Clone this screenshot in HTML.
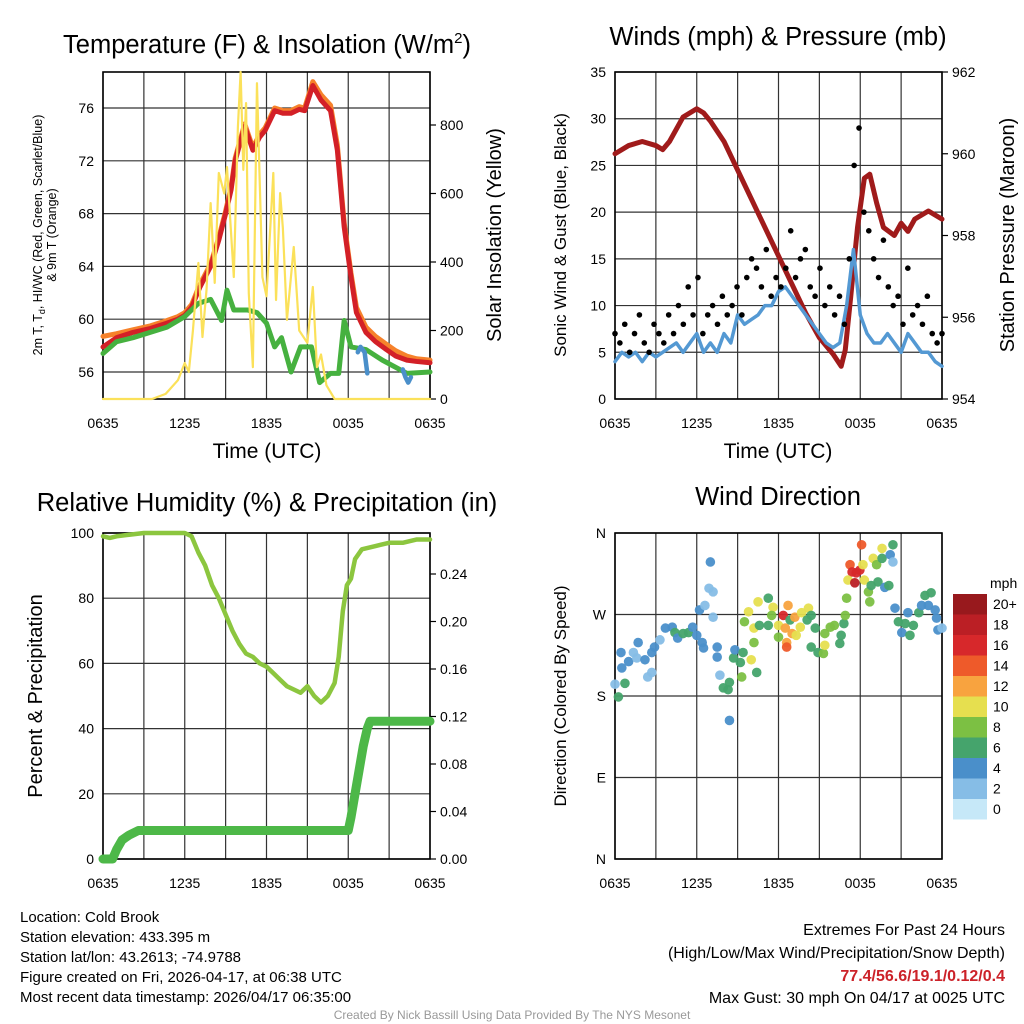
<!DOCTYPE html>
<html><head><meta charset="utf-8">
<style>
html,body{margin:0;padding:0;background:#fff;}
svg{display:block;font-family:"Liberation Sans",sans-serif;}
</style></head>
<body>
<svg id="chart" width="1024" height="1024" viewBox="0 0 1024 1024" xmlns="http://www.w3.org/2000/svg">
<g id="p1"></g>
<g id="p2"></g>
<g id="p3"></g>
<g id="p4"></g>
<text x="267" y="53" font-size="25.5" text-anchor="middle">Temperature (F) &amp; Insolation (W/m<tspan font-size="15" dy="-10">2</tspan><tspan dy="10">)</tspan></text>
<text x="778" y="45" font-size="25.5" text-anchor="middle">Winds (mph) &amp; Pressure (mb)</text>
<text x="267" y="511" font-size="25.5" text-anchor="middle">Relative Humidity (%) &amp; Precipitation (in)</text>
<text x="778" y="505" font-size="25.5" text-anchor="middle">Wind Direction</text>
<text x="267" y="458" font-size="21" text-anchor="middle">Time (UTC)</text>
<text x="778" y="458" font-size="21" text-anchor="middle">Time (UTC)</text>
<text transform="translate(42,235) rotate(-90)" font-size="12.5" text-anchor="middle">2m T, T<tspan font-size="9" dy="3">d</tspan><tspan dy="-3">, HI/WC (Red, Green, Scarlet/Blue)</tspan></text>
<text transform="translate(56,235) rotate(-90)" font-size="12.5" text-anchor="middle">&amp; 9m T (Orange)</text>
<text transform="translate(501,235) rotate(-90)" font-size="20" text-anchor="middle">Solar Insolation (Yellow)</text>
<text transform="translate(566,235) rotate(-90)" font-size="17" text-anchor="middle">Sonic Wind &amp; Gust (Blue, Black)</text>
<text transform="translate(1014,235) rotate(-90)" font-size="20" text-anchor="middle">Station Pressure (Maroon)</text>
<text transform="translate(42,696) rotate(-90)" font-size="20" text-anchor="middle">Percent &amp; Precipitation</text>
<text transform="translate(566,696) rotate(-90)" font-size="17" text-anchor="middle">Direction (Colored By Speed)</text>
<g font-size="15">
<text x="20" y="922">Location: Cold Brook</text>
<text x="20" y="942">Station elevation: 433.395 m</text>
<text x="20" y="962">Station lat/lon: 43.2613; -74.9788</text>
<text x="20" y="982">Figure created on Fri, 2026-04-17, at 06:38 UTC</text>
<text x="20" y="1002">Most recent data timestamp: 2026/04/17 06:35:00</text>
</g>
<g font-size="16" text-anchor="end">
<text x="1005" y="935">Extremes For Past 24 Hours</text>
<text x="1005" y="958">(High/Low/Max Wind/Precipitation/Snow Depth)</text>
<text x="1005" y="981" fill="#cc2229" font-weight="bold">77.4/56.6/19.1/0.12/0.4</text>
<text x="1005" y="1003">Max Gust: 30 mph On 04/17 at 0025 UTC</text>
</g>
<text x="512" y="1019" font-size="12" fill="#999" text-anchor="middle">Created By Nick Bassill Using Data Provided By The NYS Mesonet</text>
</svg>
<script>
const xTickLabels = ["0635","1235","1835","0035","0635"];
// Temperature (hours since 0635, value)
const tempHours = [0,1,2.2,3.5,4.7,5.5,6,6.5,7.1,7.9,8.5,9,9.4,9.7,10.1,10.4,11,11.5,11.9,12.6,13.2,13.8,14.4,14.8,15.4,16,16.7,17.2,17.7,18.2,18.6,19.3,20,20.8,21.5,22.3,23,24];
const tempRed = [57.9,58.6,59.0,59.3,59.7,60.0,60.3,60.9,62.4,64.0,66.0,68.0,69.8,72.0,73.5,74.6,72.8,73.8,74.3,75.8,75.6,75.6,75.9,75.8,77.7,76.6,75.8,72.8,67.0,63.2,60.5,59.0,58.3,57.7,57.2,56.9,56.8,56.7];
const tempOrange = [58.7,58.9,59.2,59.5,59.9,60.2,60.5,61.1,62.6,64.2,66.2,68.2,70.0,72.2,73.7,74.8,73.0,74.0,74.5,76.0,75.8,75.8,76.1,76.0,78.0,77.0,76.2,73.2,67.3,63.5,60.9,59.4,58.7,58.1,57.6,57.2,57.0,56.9];
const dewHours = [0,1,2.2,4.7,6,7,7.9,8.7,9.1,9.6,10.6,11.3,12,12.6,13.1,13.8,14.5,15.3,15.9,16.7,17.3,17.7,18.2,19.3,20.5,22.3,24];
const dewValues = [57.4,58.3,58.6,59.4,60.2,61.2,61.5,59.9,62.2,60.7,60.7,60.5,59.7,57.9,58.6,56.0,57.9,57.9,55.2,55.9,55.9,59.9,57.9,57.7,56.9,55.9,56.0];
const wcHours = [18.7,18.9,19.2,19.4,22.0,22.2,22.4,22.6];
const wcValues = [57.5,57.9,57.5,55.9,56.2,55.6,55.2,55.6];
const solarHours = [0,3.6,4.6,5.5,6,6.3,6.6,7,7.3,7.6,7.9,8.2,8.5,8.9,9.1,9.6,9.9,10.1,10.3,10.5,10.7,11,11.3,11.7,12,12.5,12.7,13,13.2,13.5,14,14.4,15,15.4,15.7,16,16.4,17,24];
const solarValues = [0,0,15,55,105,79,200,397,181,320,572,339,660,600,677,356,794,955,669,864,309,93,922,356,300,660,289,601,500,231,444,200,164,327,93,130,40,0,0];
// Wind & pressure
const pressHours = [0,1,2,3,3.5,4,5,6,6.5,7,8,9,10,11,12,13,14,15,16,16.6,16.9,17.3,17.8,18.3,18.7,19.2,19.7,20.5,21,21.5,22,23,24];
const pressValues = [960.0,960.2,960.3,960.2,960.1,960.3,960.9,961.1,961.0,960.8,960.3,959.6,958.9,958.2,957.5,956.8,956.1,955.5,955.1,954.8,955.2,956.5,958.2,959.4,959.5,958.8,958.2,958.0,958.3,958.1,958.4,958.6,958.4];
const windValues = [4,5,4.5,5,4,5,4.5,5,5.5,6,5,6,7,5,6,5,7,6,9,8,8.5,9,10,10,11.5,12,11,10,9,8,7,6,5.5,6,10,16,9,7,6,6,7,6,5,7,6,5,5,4,3.5];
const gustValues = [7,6,8,5,7,9,6,5,8,7,6,9,7,10,8,12,9,13,7,9,10,8,11,9,10,12,9,13,15,14,12,16,11,13,12,14,18,13,15,16,12,11,14,10,12,9,11,8,15,25,29,20,18,15,13,17,12,10,11,8,14,9,10,8,11,7,6,7];
// Humidity & precip
const rhHours = [0,0.5,1,2,3,4,5,6,6.5,7,7.5,8,8.5,9,9.5,10,10.5,11,11.5,12,12.5,13,13.5,14,14.5,15,15.5,16,16.5,17,17.3,17.6,17.9,18.2,18.5,19,20,21,22,23,24];
const rhValues = [99,98.5,99,99.5,100,100,100,100,99,94,90,84,80,75,70,66,63,62,60,59,57,55,53,52,51,53,50,48,50,54,62,76,84,86,92,95,96,97,97,98,98];
const precipHours = [0,0.7,1.0,1.4,1.9,2.6,4,6,10,14,18,18.2,18.5,18.8,19.1,19.4,19.6,24];
const precipValues = [0,0,0.008,0.016,0.02,0.024,0.024,0.024,0.024,0.024,0.024,0.035,0.055,0.075,0.095,0.11,0.116,0.116];
// Wind direction
const dirHours = [0,0.25,0.44,0.73,0.5,1.0,1.35,1.7,1.6,2.2,2.4,2.7,2.7,2.9,3.3,3.7,4.2,4.4,4.6,5.0,5.4,5.7,6.0,6.2,6.4,6.5,6.6,6.9,7.2,7.0,7.2,7.5,7.5,7.7,7.95,8.3,8.4,8.4,8.7,8.8,9.2,9.3,9.4,9.5,9.8,10.0,10.2,10.2,10.4,10.5,10.6,11.25,11.25,11.6,11.5,12.0,12.0,12.35,12.5,12.7,12.6,12.6,12.85,13.0,13.2,13.3,13.6,13.7,14.1,14.2,14.4,14.7,14.4,14.9,15.3,15.4,15.4,15.8,16.1,16.5,16.6,16.8,16.9,17.0,17.25,17.4,17.1,17.6,17.7,17.97,18.1,18.2,18.3,18.6,18.7,18.8,18.95,19.2,19.3,19.6,19.6,19.8,20.1,20.2,20.4,20.4,20.55,20.8,21.05,21.3,21.5,21.65,21.9,22.3,22.5,22.75,23.0,23.2,23.5,23.6,23.7,24];
const dirDeg = [193,179,228,194,211,218,228,239,222,220,201,206,228,234,242,255,256,250,244,249,250,256,247,275,239,233,280,299,295,328,267,234,223,203,189,187,153,195,222,231,217,201,228,262,273,220,239,255,206,284,258,288,258,278,269,258,245,269,255,280,239,234,264,249,267,247,256,272,264,277,269,255,234,228,227,236,249,256,258,238,247,260,269,288,325,317,308,305,316,319,347,325,308,295,284,302,332,325,306,343,332,300,302,336,347,328,277,262,250,260,272,247,258,272,280,291,280,294,275,266,253,255];
const dirSpeed = [3,7,4,7,4,4,2,4,2,4,2,2,4,4,2,4,4,6,4,6,6,4,4,4,4,4,2,2,2,4,2,4,4,2,6,6,4,6,6,4,6,8,6,8,10,10,8,10,6,10,6,6,6,10,8,10,8,16,12,12,12,14,6,12,12,10,10,10,6,10,6,6,7,6,8,10,8,8,8,6,6,6,8,8,14,16,10,18,16,16,14,10,10,8,8,6,10,8,6,10,6,4,6,4,6,2,4,6,4,6,4,6,6,6,4,6,4,6,4,4,4,2];
const colorBins = ["#c6e8f8","#86bde6","#4a8fca","#45a46c","#7cc043","#e6df4f","#f8a33f","#ee5a2a","#d7282b","#bb1f25","#98191d"];
const colorLabels = ["0","2","4","6","8","10","12","14","16","18","20+"];

const NS="http://www.w3.org/2000/svg";
function mk(parent,tag,attrs){const e=document.createElementNS(NS,tag);for(const k in attrs)e.setAttribute(k,attrs[k]);parent.appendChild(e);return e;}
function lin(d0,d1,r0,r1){return v=>r0+(v-d0)/(d1-d0)*(r1-r0);}
function frame(g,x0,x1,y0,y1,yTicks,yScale,yLabels){
  const xs=lin(0,24,x0,x1);
  for(let h=0;h<=24;h+=3){
    const l=mk(g,'line',{x1:xs(h),x2:xs(h),y1:y0,y2:y1,stroke:'#333','stroke-width':1.2});
    
    
  }
  yTicks.forEach((v,i)=>{
    const y=yScale(v);
    const l=mk(g,'line',{x1:x0,x2:x1,y1:y,y2:y,stroke:'#333','stroke-width':1.2});
    
    
    const t=mk(g,'text',{x:x0-9,y:y+5,'font-size':14,'text-anchor':'end'});
    t.textContent=yLabels[i];
    
    
  });
  xTickLabels.forEach((s,i)=>{
    const t=mk(g,'text',{x:xs(i*6),y:y1+29,'font-size':14,'text-anchor':'middle'});
    t.textContent=s;
    
    
  });
  const b=mk(g,'rect',{x:x0,y:y0,width:x1-x0,height:y1-y0,fill:'none',stroke:'#000','stroke-width':1.6});
  
  
  return xs;
}
function rightTicks(g,x1,ticks,scale,labels){
  ticks.forEach((v,i)=>{
    const y=scale(v);
    mk(g,'line',{x1:x1,x2:x1+6,y1:y,y2:y,stroke:'#000','stroke-width':1.2});
    const t=mk(g,'text',{x:x1+10,y:y+5,'font-size':14});
    t.textContent=labels[i];
    
    
  });
}
function line(g,hs,vs,xs,ys,color,w,name){
  const p=mk(g,'polyline',{points:hs.map((h,i)=>xs(h)+','+ys(vs[i])).join(' '),fill:'none',stroke:color,'stroke-width':w,'stroke-linejoin':'round','stroke-linecap':'round'});
  
  
  return p;
}
// Panel 1
(function(){
  const g=document.getElementById('p1');
  const ys=lin(56,76,372,108), ss=lin(0,800,399,125);
  const tt=[56,60,64,68,72,76];
  const xs=frame(g,103,430,72,399,tt,ys,tt.map(String));
  rightTicks(g,430,[0,200,400,600,800],ss,["0","200","400","600","800"]);
  line(g,tempHours,tempOrange,xs,ys,'#f6822b',5,'9m-temp-line');
  line(g,tempHours,tempRed,xs,ys,'#d32027',5,'2m-temp-line');
  line(g,dewHours,dewValues,xs,ys,'#46b13f',5,'dewpoint-line');
  line(g,wcHours.slice(0,4),wcValues.slice(0,4),xs,ys,'#4a8fca',4.5,'windchill-line-a');
  line(g,wcHours.slice(4),wcValues.slice(4),xs,ys,'#4a8fca',4.5,'windchill-line-b');
  line(g,solarHours,solarValues,xs,ss,'#fbe15a',2.2,'solar-line');
})();
// Panel 2
(function(){
  const g=document.getElementById('p2');
  const ys=lin(0,35,399,72), ps=lin(954,962,399,72);
  const tt=[0,5,10,15,20,25,30,35];
  const xs=frame(g,615,942,72,399,tt,ys,tt.map(String));
  rightTicks(g,942,[954,956,958,960,962],ps,["954","956","958","960","962"]);
  line(g,pressHours,pressValues,xs,ps,'#a01b1b',5,'pressure-line');
  const wh=windValues.map((v,i)=>i*24/(windValues.length-1));
  line(g,wh,windValues,xs,ys,'#5499d3',3.5,'sonic-wind-line');
  gustValues.forEach((v,i)=>{
    const c=mk(g,'circle',{cx:xs(i*24/(gustValues.length-1)),cy:ys(v),r:2.8,fill:'#000'});
    
    
  });
})();
// Panel 3
(function(){
  const g=document.getElementById('p3');
  const ys=lin(0,100,859,533), ps=lin(0,0.24,859,574);
  const tt=[0,20,40,60,80,100];
  const xs=frame(g,103,430,533,859,tt,ys,tt.map(String));
  rightTicks(g,430,[0,0.04,0.08,0.12,0.16,0.20,0.24],ps,["0.00","0.04","0.08","0.12","0.16","0.20","0.24"]);
  line(g,rhHours,rhValues,xs,ys,'#8cc63f',4.5,'humidity-line');
  line(g,precipHours,precipValues,xs,ps,'#4db848',9,'precip-line');
})();
// Panel 4
(function(){
  const g=document.getElementById('p4');
  const ys=lin(0,360,859,533);
  const tt=[0,90,180,270,360];
  const xs=frame(g,615,942,533,859,tt,ys,["N","E","S","W","N"]);
  dirHours.forEach((h,i)=>{
    const b=Math.min(10,Math.floor(dirSpeed[i]/2));
    const c=mk(g,'circle',{cx:xs(h),cy:ys(dirDeg[i]),r:4.8,fill:colorBins[b],'fill-opacity':0.95});
    
    
  });
  const lg=mk(document.getElementById('chart'),'g',{});
  
  
  const t=mk(lg,'text',{x:990,y:588,'font-size':14});
  t.textContent='mph';
  colorBins.forEach((c,i)=>{
    const y=594+(10-i)*20.5;
    const r=mk(lg,'rect',{x:953,y:y,width:34,height:20.5,fill:c});
    
    
    const tl=mk(lg,'text',{x:993,y:y+15,'font-size':14});
    tl.textContent=colorLabels[i];
    
    
  });
})();
</script>
</body></html>
